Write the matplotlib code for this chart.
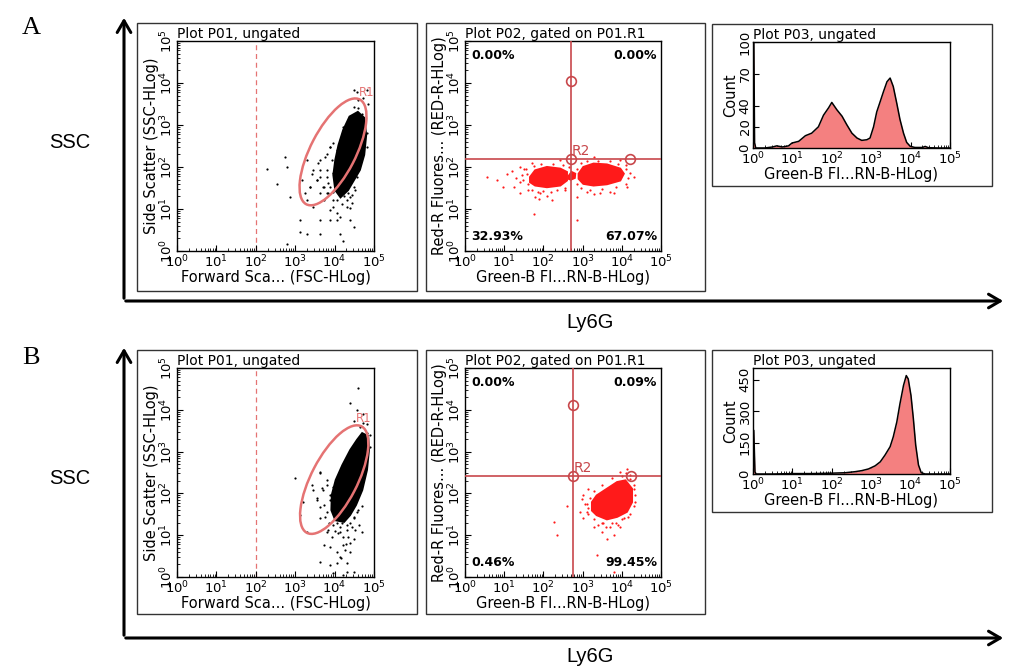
"""
Flow cytometry panels (SSC vs Ly6G), rows A and B.
All channel values are stored as log10 decades (0 = 10^0 ... 5 = 10^5).
"""

import numpy as np
import matplotlib
matplotlib.use("Agg")
import matplotlib.pyplot as plt
from matplotlib.patches import Ellipse, Polygon, Rectangle, FancyArrowPatch

W, H = 1030, 672

plt.rcParams.update({
    "font.family": "DejaVu Sans",
    "font.size": 9,
    "mathtext.fontset": "dejavusans",
})

ELLIPSE_COLOR = "#e57373"
GATE_COLOR = "#c8474b"
CLOUD_RED = "#ff1a1a"
HIST_FILL = "#f48080"
DECADES = [0, 1, 2, 3, 4, 5]
DECADE_LABELS = [r"$10^{%d}$" % k for k in DECADES]

# ---------------- row A data ----------------
# P01 dense core outline (FSC, SSC) in decades
a_core_fsc = [4.59, 4.75, 4.80, 4.75, 4.64, 4.49, 4.34, 4.15, 4.02, 3.97, 4.02, 4.10, 4.22, 4.38]
a_core_ssc = [3.31, 3.17, 2.76, 2.29, 1.93, 1.69, 1.45, 1.28, 1.45, 1.81, 2.17, 2.52, 2.88, 3.20]
# P01 sparse events
a_fsc = [2.28, 2.53, 2.74, 2.79, 2.87, 3.25, 3.13, 3.29, 3.46, 3.63, 3.63, 3.80, 3.80, 3.97,
         4.05, 4.14, 4.22, 4.31, 4.39, 4.39, 4.48, 4.48, 4.56, 4.81, 4.86, 3.63, 3.72, 3.55,
         3.42, 3.29, 3.63, 3.80, 3.89, 4.10, 4.22, 4.35, 4.43, 4.05, 3.89, 2.79, 3.13, 4.14,
         4.31, 4.05, 3.89, 3.72, 3.38, 3.17, 4.69, 4.56, 4.48, 4.60, 4.25, 4.52, 4.62, 3.95,
         4.44,
         3.46, 3.59, 3.63, 3.76, 3.80, 3.84, 3.93, 3.97, 4.01, 4.05, 4.09, 4.14, 4.14, 4.18,
         4.22, 4.31, 3.97, 3.84, 3.71, 3.63, 3.55, 3.38, 3.29, 3.88, 4.05, 4.14, 4.39, 4.48,
         4.56, 4.81, 4.81, 4.60, 4.73, 4.48, 4.39, 4.22, 4.14, 3.97, 3.88]
a_ssc = [1.96, 1.60, 2.24, 2.00, 1.29, 1.37, 0.73, 0.41, 1.05, 0.73, 0.41, 1.37, 1.76, 1.05,
         0.73, 0.41, 0.25, 1.05, 1.29, 0.73, 0.57, 3.83, 3.79, 3.83, 3.51, 1.92, 1.52, 1.68,
         1.84, 2.16, 2.16, 2.32, 2.48, 1.37, 1.37, 1.37, 1.33, 1.21, 0.73, 0.17, 0.45, 1.60,
         1.52, 1.52, 1.52, 1.21, 1.52, 1.68, 3.27, 1.76, 1.52, 3.40, 1.30, 1.45, 2.50, 1.40,
         1.15,
         1.93, 2.09, 1.77, 2.25, 1.93, 1.61, 2.17, 1.85, 1.53, 2.40, 2.01, 1.69, 1.37, 1.13,
         1.45, 1.21, 1.21, 1.37, 1.53, 1.37, 1.69, 1.53, 1.21, 0.98, 0.90, 0.82, 1.02, 2.17,
         2.48, 2.48, 2.80, 3.60, 3.64, 3.44, 3.12, 2.96, 2.64, 2.56, 2.48]
a_r1 = dict(center=(3.96, 2.36), major=2.84, minor=1.14, angle=61)

# P02 clusters (Green, Red) in decades
a_clu1_g = [1.66, 1.79, 2.09, 2.43, 2.60, 2.60, 2.43, 2.09, 1.79, 1.66]
a_clu1_r = [1.76, 1.92, 2.00, 1.96, 1.88, 1.68, 1.56, 1.52, 1.56, 1.64]
a_clu2_g = [2.90, 3.02, 3.28, 3.62, 3.96, 4.05, 3.96, 3.62, 3.28, 3.02, 2.90]
a_clu2_r = [1.84, 2.00, 2.08, 2.06, 1.96, 1.84, 1.68, 1.59, 1.56, 1.60, 1.72]
a_clu3_g = [2.64, 2.72, 2.81, 2.80, 2.70, 2.64]
a_clu3_r = [1.78, 1.88, 1.84, 1.74, 1.70, 1.72]
a_green = [0.55, 0.81, 1.06, 1.24, 1.41, 1.49, 1.75, 1.79, 2.21, 2.85, 3.45, 3.79, 4.13, 4.30,
           1.41, 2.43, 3.28, 3.96, 2.85, 1.92, 0.98, 1.58, 1.50, 1.60, 2.55, 3.10, 4.10, 1.70,
           1.45, 1.55, 1.60, 1.70, 1.85, 2.00, 2.20, 2.35, 2.55, 2.65, 2.50, 2.25, 1.95, 1.75,
           1.40, 1.30, 1.20, 2.10, 1.90,
           2.85, 2.95, 3.10, 3.40, 3.70, 3.90, 4.10, 4.15, 4.10, 3.85, 3.50, 3.20, 2.95, 2.85,
           3.30, 3.70, 4.20]
a_red = [1.76, 1.68, 1.84, 1.52, 1.37, 1.68, 0.89, 1.29, 1.21, 1.29, 1.37, 1.37, 1.52, 1.76,
         2.00, 2.16, 2.24, 2.16, 0.73, 1.37, 1.52, 1.84, 1.95, 1.45, 1.45, 1.40, 2.05, 2.10,
         1.80, 1.95, 1.60, 1.45, 1.40, 1.42, 1.40, 1.45, 1.50, 2.00, 2.05, 2.08, 2.06, 2.02,
         1.65, 1.75, 1.90, 1.30, 1.25,
         1.95, 2.10, 2.15, 2.15, 2.15, 2.08, 1.95, 1.75, 1.60, 1.52, 1.48, 1.45, 1.50, 1.60,
         1.35, 1.40, 1.85]
a_quad = dict(x=2.70, y=2.20, top=4.05, right=4.22)
a_pct = ["0.00%", "0.00%", "32.93%", "67.07%"]

# P03 histogram
a_hist_x = [0.0, 0.02, 0.04, 0.07, 0.3, 0.5, 0.6, 0.75, 0.9, 0.99, 1.16, 1.33, 1.49, 1.66,
            1.79, 1.92, 2.0, 2.13, 2.26, 2.38, 2.51, 2.64, 2.76, 2.89, 2.97, 3.06, 3.14, 3.23,
            3.31, 3.40, 3.48, 3.56, 3.65, 3.73, 3.82, 3.90, 3.99, 4.11, 4.3, 4.37, 4.45, 4.7, 5.0]
a_hist_y = [0, 110, 5, 0, 0, 1, 2, 1, 2, 4.7, 6.3, 11.6, 14, 20, 31, 38, 43, 36, 30, 22, 14,
            9.4, 7.2, 7.8, 9.4, 20, 34, 44, 53, 62.5, 66, 58, 42, 27, 14, 5.3, 1.6, 0.5, 0.5,
            1.5, 0.3, 0, 0]
a_hist_ticks = [0, 20, 40, 70, 100]
a_hist_max = 100

# ---------------- row B data ----------------
b_core_fsc = [4.70, 4.85, 4.87, 4.82, 4.70, 4.54, 4.39, 4.24, 4.02, 3.92, 3.93, 4.03, 4.20, 4.40, 4.57]
b_core_ssc = [3.44, 3.37, 3.04, 2.56, 2.08, 1.72, 1.48, 1.32, 1.36, 1.60, 1.96, 2.32, 2.68, 3.04, 3.28]
b_fsc = [3.63, 3.80, 3.97, 4.14, 4.31, 4.22, 4.39, 4.48, 4.05, 3.89, 4.31, 4.48, 3.72, 3.00,
         3.29, 3.42, 3.55, 3.72, 3.80, 3.93, 3.97, 4.10, 4.48, 4.39, 4.56, 4.60, 4.39, 4.73,
         4.81, 4.48, 3.63, 3.80, 3.89, 3.67, 3.13, 3.21, 4.69, 3.63, 4.20, 4.35, 4.62, 4.00,
         4.15, 4.28, 3.85, 4.45, 4.70, 4.90,
         3.63, 3.71, 3.80, 3.88, 3.97, 4.01, 4.05, 4.09, 4.14, 4.18, 4.22, 4.31, 4.39, 4.48,
         4.39, 4.26, 4.14, 4.05, 4.31, 4.22, 3.97, 3.88, 3.76, 3.55, 3.46, 3.84, 4.56, 4.73,
         4.81, 4.90, 4.64, 4.60, 4.52, 3.63, 3.93]
b_ssc = [1.40, 1.08, 1.24, 1.08, 1.24, 0.76, 0.60, 0.92, 0.60, 0.28, 0.12, 0.12, 0.76, 2.36,
         1.08, 2.20, 1.88, 1.72, 1.56, 1.80, 1.56, 1.40, 1.40, 1.56, 1.56, 4.53, 4.17, 3.89,
         3.65, 3.73, 2.52, 2.20, 1.96, 2.12, 1.48, 1.80, 1.08, 0.36, 1.30, 0.95, 1.25, 1.10,
         0.45, 0.80, 1.30, 1.20, 1.70, 3.40,
         2.48, 2.08, 2.32, 1.84, 2.16, 1.60, 1.28, 1.05, 1.20, 1.44, 0.96, 1.12, 1.28, 1.44,
         0.81, 0.65, 0.49, 0.33, 0.33, 0.05, 0.09, 0.72, 1.44, 1.84, 2.08, 1.12, 4.00, 3.68,
         3.44, 3.12, 3.60, 1.60, 1.12, 1.68, 0.96]
b_r1 = dict(center=(3.99, 2.33), major=2.90, minor=1.16, angle=61)

b_clu_g = [3.24, 3.36, 3.62, 3.88, 4.09, 4.26, 4.26, 4.13, 3.88, 3.62, 3.36, 3.24]
b_clu_r = [1.79, 1.95, 2.11, 2.27, 2.31, 2.11, 1.79, 1.56, 1.44, 1.38, 1.48, 1.59]
b_green = [2.60, 2.98, 3.11, 3.02, 3.28, 3.49, 3.62, 3.79, 3.96, 3.36, 2.26, 2.34, 3.79, 3.96,
           4.13, 4.30, 4.34, 3.15, 2.94, 3.02, 4.05, 4.17, 3.53, 3.70, 3.10, 4.20, 3.40, 3.85,
           3.15, 3.20, 3.30, 3.50, 3.75, 4.00, 4.20, 4.32, 4.33, 4.30, 4.20, 4.00, 3.75, 3.50,
           3.30, 3.15, 3.05, 4.10, 3.60, 3.90]
b_red = [1.71, 1.87, 1.56, 1.40, 1.20, 1.08, 0.92, 1.00, 1.20, 0.52, 1.32, 1.00, 0.12, 2.51,
         2.59, 2.11, 1.79, 2.11, 1.56, 1.95, 1.40, 1.44, 1.28, 1.20, 1.75, 2.45, 1.25, 1.30,
         1.65, 1.90, 2.05, 2.20, 2.38, 2.42, 2.35, 2.20, 1.95, 1.70, 1.50, 1.38, 1.30, 1.28,
         1.38, 1.50, 1.75, 2.50, 1.20, 1.25]
b_quad = dict(x=2.75, y=2.42, top=4.12, right=4.24)
b_pct = ["0.00%", "0.09%", "0.46%", "99.45%"]

b_hist_x = [0.0, 0.02, 0.05, 0.08, 0.5, 1.0, 1.5, 2.0, 2.17, 2.34, 2.59, 2.76, 2.93, 3.10,
            3.23, 3.35, 3.48, 3.56, 3.65, 3.73, 3.82, 3.89, 3.94, 4.01, 4.07, 4.13, 4.20,
            4.27, 4.37, 5.0]
b_hist_y = [0, 208, 10, 0, 0, 2, 2, 4, 5, 6, 11, 16, 24, 39, 58, 90, 130, 177, 248, 335,
            422, 469, 453, 374, 264, 137, 43, 6, 0, 0]
b_hist_ticks = [0, 150, 300, 450]
b_hist_max = 505


def px_rect(x0, y0, x1, y1):
    return [x0 / W, 1 - y1 / H, (x1 - x0) / W, (y1 - y0) / H]


def fx(x):
    return x / W


def fy(y):
    return 1 - y / H


def decade_axes(ax, x_axis=True, y_axis=True):
    minors = [k + np.log10(m) for k in range(5) for m in range(2, 10)]
    if x_axis:
        ax.set_xlim(0, 5)
        ax.set_xticks(DECADES)
        ax.set_xticklabels(DECADE_LABELS, fontsize=9.5)
        ax.set_xticks(minors, minor=True)
    if y_axis:
        ax.set_ylim(0, 5)
        ax.set_yticks(DECADES)
        ax.set_yticklabels(DECADE_LABELS, fontsize=9.5, rotation=90, va="center")
        ax.set_yticks(minors, minor=True)
    ax.tick_params(which="major", direction="in", length=4, width=0.8, pad=1)
    ax.tick_params(axis="x", which="major", pad=2)
    ax.tick_params(which="minor", direction="in", length=2, width=0.6)
    for s in ax.spines.values():
        s.set_linewidth(1.0)


def frame(fig, rect_px):
    x0, y0, x1, y1 = rect_px
    fig.add_artist(Rectangle((fx(x0), fy(y1)), (x1 - x0) / W, (y1 - y0) / H,
                             transform=fig.transFigure, fill=False,
                             edgecolor="#333333", linewidth=1.0))


def panel_p01(fig, rect, core_x, core_y, xs, ys, r1, r1_label_pos):
    ax = fig.add_axes(rect)
    decade_axes(ax)
    ax.add_patch(Polygon(np.column_stack([core_x, core_y]), closed=True,
                         facecolor="black", edgecolor="black", linewidth=1.5, zorder=2))
    ax.scatter(xs, ys, s=2.5, color="black", linewidths=0, zorder=2)
    ax.add_patch(Ellipse(r1["center"], r1["major"], r1["minor"], angle=r1["angle"],
                         fill=False, edgecolor=ELLIPSE_COLOR, linewidth=1.8, zorder=3))
    ax.axvline(2, color=ELLIPSE_COLOR, linestyle=(0, (4, 3)), linewidth=0.9, zorder=1)
    ax.text(*r1_label_pos, "R1", color=ELLIPSE_COLOR, fontsize=8.5, zorder=4)
    ax.set_title("Plot P01, ungated", loc="left", fontsize=10, pad=1)
    ax.set_xlabel("Forward Sca... (FSC-HLog)", fontsize=10.5, labelpad=0)
    ax.set_ylabel("Side Scatter (SSC-HLog)", fontsize=10.5, labelpad=0)
    return ax


def panel_p02(fig, rect, clusters, xs, ys, quad, pct):
    ax = fig.add_axes(rect)
    decade_axes(ax)
    for cx, cy in clusters:
        ax.add_patch(Polygon(np.column_stack([cx, cy]), closed=True,
                             facecolor=CLOUD_RED, edgecolor=CLOUD_RED, linewidth=1.5, zorder=2))
    ax.scatter(xs, ys, s=2.5, color=CLOUD_RED, linewidths=0, zorder=2)
    ax.axvline(quad["x"], color=GATE_COLOR, linewidth=1.2, zorder=3)
    ax.axhline(quad["y"], color=GATE_COLOR, linewidth=1.2, zorder=3)
    ax.plot([quad["x"], quad["x"], quad["right"]], [quad["top"], quad["y"], quad["y"]],
            linestyle="none", marker="o", markersize=7, markerfacecolor="none",
            markeredgecolor=GATE_COLOR, markeredgewidth=1.2, zorder=4)
    ax.text(quad["x"] + 0.02, quad["y"] + 0.08, "R2", color=GATE_COLOR, fontsize=10, zorder=4)
    kw = dict(fontsize=9, fontweight="bold", transform=ax.transAxes)
    ax.text(0.03, 0.96, pct[0], ha="left", va="top", **kw)
    ax.text(0.98, 0.96, pct[1], ha="right", va="top", **kw)
    ax.text(0.03, 0.04, pct[2], ha="left", va="bottom", **kw)
    ax.text(0.98, 0.04, pct[3], ha="right", va="bottom", **kw)
    ax.set_title("Plot P02, gated on P01.R1", loc="left", fontsize=10, pad=1)
    ax.set_xlabel("Green-B Fl...RN-B-HLog)", fontsize=10.5, labelpad=0)
    ax.set_ylabel("Red-R Fluores... (RED-R-HLog)", fontsize=10.5, labelpad=0)
    return ax


def panel_p03(fig, rect, hx, hy, ticks, ymax):
    ax = fig.add_axes(rect)
    decade_axes(ax, y_axis=False)
    ax.set_ylim(0, ymax)
    ax.set_yticks(ticks)
    ax.set_yticklabels([str(t) for t in ticks], fontsize=9.5, rotation=90, va="center")
    ax.fill_between(hx, hy, 0, color=HIST_FILL, linewidth=0, zorder=2)
    ax.plot(hx, hy, color="black", linewidth=1.1, zorder=3)
    ax.set_title("Plot P03, ungated", loc="left", fontsize=10, pad=1)
    ax.set_xlabel("Green-B Fl...RN-B-HLog)", fontsize=10.5, labelpad=0)
    ax.set_ylabel("Count", fontsize=10.5, labelpad=0)
    return ax


def axis_arrows(fig, corner_y, top_y, row_label, label_y, ssc_y, ly6g_y):
    arrow_kw = dict(transform=fig.transFigure, arrowstyle="->,head_length=0.6,head_width=0.35",
                    mutation_scale=14, linewidth=2.2, color="black")
    fig.add_artist(FancyArrowPatch((fx(124), fy(corner_y)), (fx(124), fy(top_y)), **arrow_kw))
    fig.add_artist(FancyArrowPatch((fx(123), fy(corner_y)), (fx(1006), fy(corner_y)), **arrow_kw))
    fig.text(fx(31), fy(label_y), row_label, fontsize=19, family="Liberation Serif",
             ha="center", va="center")
    fig.text(fx(70), fy(ssc_y), "SSC", fontsize=14.5, family="Liberation Sans",
             ha="center", va="center")
    fig.text(fx(590), fy(ly6g_y), "Ly6G", fontsize=14.5, family="Liberation Sans",
             ha="center", va="center")


if __name__ == "__main__":
    fig = plt.figure(figsize=(W / 100, H / 100), dpi=100)

    # frames around each instrument panel
    for r in [(137, 23, 417, 291), (426, 23, 705, 291), (712, 24, 992, 186),
              (137, 350, 417, 614), (426, 350, 705, 614), (712, 350, 992, 512)]:
        frame(fig, r)

    # row A
    panel_p01(fig, px_rect(177, 41, 374, 251), a_core_fsc, a_core_ssc, a_fsc, a_ssc,
              a_r1, (4.62, 3.68))
    panel_p02(fig, px_rect(465, 41, 661, 251),
              [(a_clu1_g, a_clu1_r), (a_clu2_g, a_clu2_r), (a_clu3_g, a_clu3_r)],
              a_green, a_red, a_quad, a_pct)
    panel_p03(fig, px_rect(753, 42, 950, 148), a_hist_x, a_hist_y, a_hist_ticks, a_hist_max)
    axis_arrows(fig, 301, 15, "A", 28, 143, 323)

    # row B
    panel_p01(fig, px_rect(177, 368, 374, 577), b_core_fsc, b_core_ssc, b_fsc, b_ssc,
              b_r1, (4.55, 3.72))
    panel_p02(fig, px_rect(465, 368, 661, 577), [(b_clu_g, b_clu_r)],
              b_green, b_red, b_quad, b_pct)
    panel_p03(fig, px_rect(753, 368, 950, 474), b_hist_x, b_hist_y, b_hist_ticks, b_hist_max)
    axis_arrows(fig, 638, 345, "B", 358, 478, 657)

    fig.savefig("out.png", dpi=100)
    plt.close(fig)
    print("Saved: out.png")
